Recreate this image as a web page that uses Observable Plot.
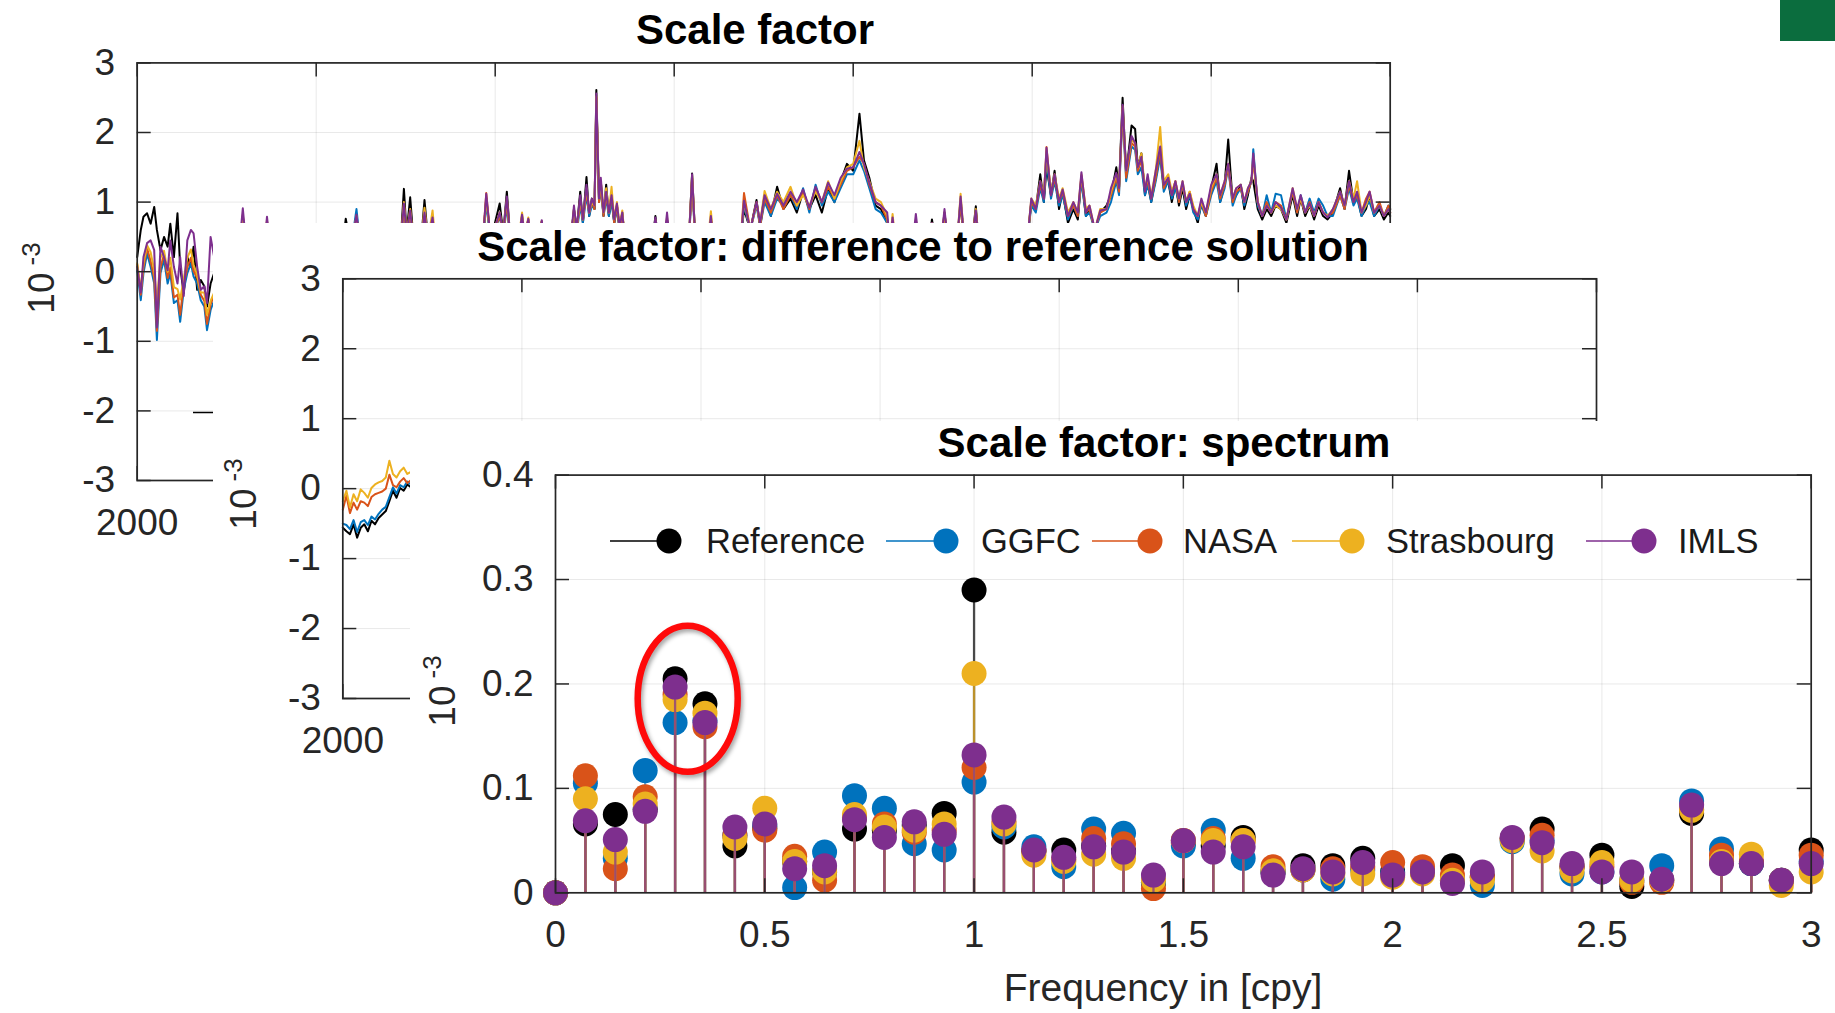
<!DOCTYPE html>
<html>
<head>
<meta charset="utf-8">
<script src="https://cdn.jsdelivr.net/npm/d3@7"></script>
<script src="https://cdn.jsdelivr.net/npm/@observablehq/plot@0.6"></script>
<style>
  html, body { margin: 0; padding: 0; background: #fff; }
  #fig { position: relative; width: 1835px; height: 1013px; overflow: hidden; background: #fff;
         font-family: "Liberation Sans", Arial, Helvetica, sans-serif; }
  .title { position: absolute; font-weight: bold; font-size: 42px; color: #000; white-space: nowrap;
           line-height: 1; transform: translate(-50%, -50%); }
  .ylab { position: absolute; font-size: 37px; color: #262626; white-space: nowrap; line-height: 1;
          transform: translate(-50%, -50%) rotate(-90deg); }
  .ylab sup { font-size: 26px; margin-left: 7px; vertical-align: 0.55em; line-height: 0; }
  .xlab { position: absolute; font-size: 39px; color: #262626; white-space: nowrap; line-height: 1;
          transform: translate(-50%, -50%); }
  .badge { position: absolute; left: 1780px; top: 0; width: 55px; height: 41px; background: #0b6d3e; }
</style>
</head>
<body>
<div id="fig"></div>
<script>
// ---------------------------------------------------------------------------
// Series
const seriesNames  = ["Reference", "GGFC", "NASA", "Strasbourg", "IMLS"];
const seriesColors = ["#000000", "#0072BD", "#D95319", "#EDB120", "#7E2F8E"];

// Tick values
const yearTicks = [2000, 2002, 2004, 2006, 2008, 2010, 2012, 2014];
const yearLabels = [2000];            // the only year label left uncovered by the stacked panels
const unitTicks = [-3, -2, -1, 0, 1, 2, 3];
const freqTicks = [0, 0.5, 1, 1.5, 2, 2.5, 3];
const ampTicks  = [0, 0.1, 0.2, 0.3, 0.4];

// ---------------------------------------------------------------------------
// Scale factor time series (x 1e-3), rows: [year, Reference, GGFC, NASA, Strasbourg, IMLS]
const sfStart = [
  [2000.00,  0.21,  0.02,  0.10,  0.12,  0.07],
  [2000.04,  0.60, -0.41, -0.33, -0.25, -0.30],
  [2000.07,  0.79, -0.02,  0.06,  0.12,  0.21],
  [2000.11,  0.84,  0.26,  0.34,  0.38,  0.41],
  [2000.15,  0.69,  0.07,  0.15,  0.28,  0.45],
  [2000.19,  0.93, -0.17, -0.09,  0.02,  0.31],
  [2000.22,  0.60, -0.98, -0.85, -0.45, -0.80],
  [2000.26,  0.31, -0.02,  0.06,  0.20,  0.36],
  [2000.30,  0.50,  0.17,  0.25,  0.30,  0.21],
  [2000.34,  0.36, -0.17, -0.09,  0.00,  0.02],
  [2000.37,  0.69, -0.02,  0.06,  0.20,  0.45],
  [2000.41,  0.21, -0.45, -0.37, -0.22,  0.07],
  [2000.45,  0.84, -0.41, -0.33, -0.25, -0.17],
  [2000.48,  0.07, -0.72, -0.62, -0.40,  0.21],
  [2000.52, -0.31, -0.26, -0.18, -0.10, -0.35],
  [2000.56,  0.21, -0.02,  0.06,  0.20,  0.45],
  [2000.60,  0.07,  0.12,  0.20,  0.32,  0.60],
  [2000.63,  0.36, -0.07,  0.01,  0.10,  0.55],
  [2000.67, -0.26, -0.17, -0.09, -0.05,  0.07],
  [2000.71, -0.12, -0.41, -0.33, -0.30, -0.26],
  [2000.75, -0.21, -0.50, -0.42, -0.30, -0.21],
  [2000.78, -0.50, -0.84, -0.75, -0.62, -0.45],
  [2000.82, -0.17, -0.55, -0.47, -0.42,  0.50],
  [2000.86, -0.02, -0.41, -0.33, -0.30,  0.21]
];
const sfEarly = [
  [2000.90, 0.10, -0.20, -0.10, 0.00, 0.10],
  [2001.14, 0.35, 0.25, 0.30, 0.35, 0.35],
  [2001.18, 0.80, 0.70, 0.75, 0.82, 0.91],
  [2001.22, 0.30, 0.25, 0.30, 0.30, 0.35],
  [2001.42, 0.35, 0.30, 0.30, 0.35, 0.35],
  [2001.45, 0.70, 0.68, 0.72, 0.74, 0.79],
  [2001.49, 0.30, 0.25, 0.30, 0.30, 0.30],
  [2002.29, 0.30, 0.25, 0.30, 0.30, 0.30],
  [2002.33, 0.76, 0.60, 0.60, 0.65, 0.60],
  [2002.39, 0.35, 0.35, 0.35, 0.35, 0.35],
  [2002.45, 0.70, 0.90, 0.78, 0.80, 0.82],
  [2002.50, 0.30, 0.30, 0.30, 0.30, 0.30],
  [2002.94, 0.35, 0.30, 0.30, 0.35, 0.35],
  [2002.98, 1.19, 0.90, 0.95, 1.00, 0.98],
  [2003.01, 0.55, 0.50, 0.50, 0.55, 0.55],
  [2003.05, 1.07, 0.80, 0.85, 0.90, 0.88],
  [2003.09, 0.40, 0.35, 0.40, 0.40, 0.40],
  [2003.17, 0.40, 0.35, 0.40, 0.40, 0.40],
  [2003.21, 1.03, 0.80, 0.85, 0.92, 0.85],
  [2003.25, 0.45, 0.40, 0.45, 0.45, 0.45],
  [2003.30, 0.70, 0.70, 0.75, 0.88, 0.78],
  [2003.34, 0.30, 0.30, 0.30, 0.30, 0.30],
  [2003.86, 0.40, 0.35, 0.40, 0.40, 0.40],
  [2003.90, 1.05, 1.00, 1.13, 1.05, 1.12],
  [2003.95, 0.45, 0.40, 0.45, 0.45, 0.45],
  [2004.05, 0.98, 0.80, 0.80, 0.85, 0.85],
  [2004.09, 0.55, 0.50, 0.55, 0.55, 0.55],
  [2004.13, 1.15, 0.95, 1.00, 1.05, 1.08],
  [2004.17, 0.45, 0.40, 0.45, 0.45, 0.45],
  [2004.26, 0.45, 0.40, 0.45, 0.45, 0.45],
  [2004.30, 0.80, 0.75, 0.78, 0.85, 0.82],
  [2004.33, 0.50, 0.45, 0.50, 0.50, 0.50],
  [2004.37, 0.75, 0.72, 0.74, 0.78, 0.76],
  [2004.41, 0.35, 0.30, 0.35, 0.35, 0.35],
  [2004.49, 0.35, 0.30, 0.35, 0.35, 0.35],
  [2004.52, 0.72, 0.70, 0.72, 0.73, 0.74],
  [2004.56, 0.30, 0.30, 0.30, 0.30, 0.30]
];
const sf2005 = [
  [2004.84, 0.40, 0.40, 0.40, 0.40, 0.40],
  [2004.88, 0.90, 0.85, 0.88, 0.90, 0.95],
  [2004.91, 0.60, 0.55, 0.60, 0.60, 0.60],
  [2004.95, 1.15, 0.95, 1.00, 1.05, 1.10],
  [2004.98, 0.70, 0.70, 0.75, 0.75, 0.75],
  [2005.02, 1.36, 1.10, 1.15, 1.20, 1.25],
  [2005.05, 0.80, 0.80, 0.85, 0.85, 0.85],
  [2005.08, 1.05, 0.95, 1.00, 1.00, 1.05],
  [2005.11, 0.90, 0.90, 0.90, 0.95, 0.95],
  [2005.13, 2.61, 2.45, 2.50, 2.52, 2.56],
  [2005.16, 1.00, 1.00, 1.00, 1.05, 1.05],
  [2005.18, 1.30, 1.20, 1.25, 1.30, 1.35],
  [2005.21, 0.80, 0.80, 0.80, 0.85, 0.85],
  [2005.24, 1.25, 1.05, 1.10, 1.20, 1.15],
  [2005.27, 0.80, 0.80, 0.85, 0.85, 0.85],
  [2005.30, 1.05, 1.00, 1.10, 1.22, 1.10],
  [2005.33, 0.70, 0.70, 0.70, 0.75, 0.75],
  [2005.36, 0.95, 0.90, 0.95, 1.00, 0.98],
  [2005.39, 0.60, 0.60, 0.60, 0.65, 0.65],
  [2005.42, 0.85, 0.80, 0.82, 0.88, 0.85],
  [2005.46, 0.30, 0.30, 0.30, 0.30, 0.30],
  [2005.75, 0.35, 0.30, 0.30, 0.35, 0.35],
  [2005.79, 0.80, 0.70, 0.72, 0.75, 0.78],
  [2005.83, 0.35, 0.30, 0.30, 0.35, 0.35],
  [2005.88, 0.35, 0.30, 0.30, 0.35, 0.35],
  [2005.92, 0.75, 0.72, 0.74, 0.78, 0.85],
  [2005.96, 0.30, 0.30, 0.30, 0.30, 0.30],
  [2006.16, 0.35, 0.30, 0.30, 0.35, 0.35],
  [2006.20, 1.41, 1.30, 1.35, 1.38, 1.40],
  [2006.24, 0.35, 0.30, 0.30, 0.35, 0.35],
  [2006.37, 0.35, 0.30, 0.30, 0.35, 0.35],
  [2006.41, 0.75, 0.70, 0.75, 0.87, 0.80],
  [2006.45, 0.30, 0.30, 0.30, 0.30, 0.30]
];
const sf2007 = [
  [2006.74, 0.40, 0.40, 0.40, 0.40, 0.40],
  [2006.78, 0.90, 0.95, 1.13, 1.00, 1.02],
  [2006.85, 0.60, 0.60, 0.60, 0.60, 0.60],
  [2006.92, 1.03, 0.95, 1.00, 0.98, 1.00],
  [2006.96, 0.65, 0.65, 0.65, 0.70, 0.70],
  [2007.01, 1.10, 1.00, 1.05, 1.16, 1.10],
  [2007.08, 0.80, 0.80, 0.85, 0.90, 0.90],
  [2007.15, 1.22, 1.05, 1.10, 1.15, 1.12],
  [2007.22, 0.90, 0.95, 0.90, 1.00, 0.95],
  [2007.30, 1.05, 1.10, 1.10, 1.22, 1.15],
  [2007.37, 0.85, 0.90, 0.95, 0.95, 1.00],
  [2007.44, 1.15, 1.20, 1.15, 1.10, 1.18],
  [2007.51, 0.90, 0.85, 0.90, 0.95, 0.92],
  [2007.58, 1.10, 1.25, 1.20, 1.15, 1.22],
  [2007.65, 0.85, 0.95, 1.00, 1.00, 1.00],
  [2007.72, 1.20, 1.15, 1.22, 1.30, 1.28],
  [2007.79, 1.00, 1.00, 1.05, 1.05, 1.10],
  [2007.86, 1.30, 1.20, 1.25, 1.30, 1.35],
  [2007.93, 1.55, 1.40, 1.45, 1.50, 1.48],
  [2008.00, 1.45, 1.40, 1.50, 1.55, 1.50],
  [2008.07, 2.27, 1.60, 1.65, 1.88, 1.72],
  [2008.12, 1.60, 1.45, 1.55, 1.50, 1.55],
  [2008.18, 1.35, 1.20, 1.25, 1.30, 1.28],
  [2008.25, 0.95, 0.90, 1.00, 1.05, 1.00],
  [2008.31, 0.90, 0.85, 0.95, 1.00, 0.95],
  [2008.38, 0.70, 0.70, 0.75, 0.80, 0.85],
  [2008.41, 0.40, 0.40, 0.40, 0.40, 0.40],
  [2008.44, 0.70, 0.70, 0.75, 0.83, 0.78],
  [2008.48, 0.30, 0.30, 0.30, 0.30, 0.30],
  [2008.66, 0.35, 0.35, 0.35, 0.35, 0.35],
  [2008.70, 0.72, 0.70, 0.72, 0.75, 0.83],
  [2008.74, 0.35, 0.35, 0.35, 0.35, 0.35],
  [2008.84, 0.35, 0.35, 0.35, 0.35, 0.35],
  [2008.88, 0.75, 0.65, 0.68, 0.70, 0.70],
  [2008.92, 0.40, 0.40, 0.40, 0.40, 0.40],
  [2008.98, 0.40, 0.40, 0.40, 0.40, 0.40],
  [2009.02, 0.85, 0.80, 0.82, 0.85, 0.90],
  [2009.06, 0.40, 0.40, 0.40, 0.40, 0.40],
  [2009.16, 0.40, 0.40, 0.40, 0.40, 0.40],
  [2009.20, 1.00, 1.05, 1.00, 1.12, 1.08],
  [2009.24, 0.45, 0.45, 0.45, 0.45, 0.45],
  [2009.33, 0.45, 0.45, 0.45, 0.45, 0.45],
  [2009.37, 0.94, 0.80, 0.85, 0.90, 0.88],
  [2009.41, 0.30, 0.30, 0.30, 0.30, 0.30]
];
const sf2010 = [
  [2009.95, 0.50, 0.50, 0.50, 0.50, 0.50],
  [2009.99, 1.00, 0.95, 1.00, 1.05, 1.05],
  [2010.04, 0.90, 0.85, 0.90, 0.95, 0.90],
  [2010.09, 1.40, 1.20, 1.25, 1.30, 1.30],
  [2010.13, 1.00, 1.00, 1.05, 1.10, 1.05],
  [2010.16, 1.50, 1.60, 1.79, 1.70, 1.78],
  [2010.21, 1.10, 1.05, 1.10, 1.15, 1.10],
  [2010.25, 1.45, 1.30, 1.35, 1.40, 1.40],
  [2010.30, 0.90, 0.95, 1.00, 1.05, 1.00],
  [2010.34, 1.15, 1.10, 1.15, 1.20, 1.18],
  [2010.40, 0.70, 0.75, 0.80, 0.85, 0.80],
  [2010.46, 0.90, 0.95, 0.95, 1.00, 1.00],
  [2010.51, 0.75, 0.80, 0.80, 0.85, 0.85],
  [2010.55, 1.35, 1.30, 1.38, 1.40, 1.43],
  [2010.60, 0.80, 0.80, 0.85, 0.90, 0.85],
  [2010.64, 0.90, 0.85, 0.90, 0.95, 0.95],
  [2010.70, 0.60, 0.60, 0.60, 0.60, 0.60],
  [2010.76, 0.85, 0.80, 0.85, 0.90, 0.88],
  [2010.83, 0.95, 0.85, 0.90, 0.90, 0.90],
  [2010.88, 1.10, 1.00, 1.10, 1.15, 1.20],
  [2010.94, 1.50, 1.30, 1.35, 1.40, 1.42],
  [2010.97, 1.20, 1.10, 1.15, 1.20, 1.20],
  [2011.01, 2.50, 2.30, 2.35, 2.38, 2.40],
  [2011.05, 1.40, 1.30, 1.35, 1.45, 1.45],
  [2011.11, 2.10, 1.80, 1.85, 1.90, 1.95],
  [2011.15, 2.05, 1.75, 1.80, 1.85, 1.85],
  [2011.18, 1.50, 1.40, 1.45, 1.50, 1.50],
  [2011.22, 1.70, 1.50, 1.60, 1.70, 1.65],
  [2011.26, 1.10, 1.10, 1.20, 1.20, 1.15],
  [2011.29, 1.30, 1.25, 1.30, 1.35, 1.40],
  [2011.33, 1.00, 1.00, 1.05, 1.10, 1.05],
  [2011.38, 1.35, 1.30, 1.35, 1.45, 1.45],
  [2011.43, 1.70, 1.65, 1.75, 2.08, 1.80],
  [2011.47, 1.20, 1.15, 1.20, 1.30, 1.25],
  [2011.52, 1.30, 1.30, 1.35, 1.40, 1.35],
  [2011.56, 1.00, 1.05, 1.10, 1.15, 1.10],
  [2011.60, 1.25, 1.20, 1.30, 1.30, 1.30],
  [2011.64, 0.95, 1.00, 1.00, 1.05, 1.05],
  [2011.68, 1.20, 1.25, 1.25, 1.30, 1.30],
  [2011.72, 0.90, 0.95, 1.00, 1.00, 1.00],
  [2011.76, 1.10, 1.10, 1.15, 1.15, 1.12],
  [2011.80, 0.90, 0.85, 0.90, 0.95, 0.90],
  [2011.85, 0.70, 0.75, 0.80, 0.80, 0.80],
  [2011.89, 1.00, 0.95, 1.00, 1.00, 1.05],
  [2011.94, 0.80, 0.80, 0.80, 0.85, 0.85],
  [2012.00, 1.20, 1.10, 1.15, 1.20, 1.25],
  [2012.06, 1.55, 1.30, 1.35, 1.40, 1.40],
  [2012.10, 1.00, 1.00, 1.05, 1.10, 1.10],
  [2012.15, 1.25, 1.20, 1.25, 1.30, 1.30],
  [2012.19, 1.90, 1.50, 1.50, 1.55, 1.55],
  [2012.24, 1.00, 0.95, 1.00, 1.05, 1.05],
  [2012.28, 1.10, 1.10, 1.15, 1.20, 1.20],
  [2012.33, 1.25, 1.20, 1.20, 1.25, 1.25],
  [2012.37, 0.90, 0.95, 1.00, 1.00, 1.00],
  [2012.41, 1.10, 1.15, 1.15, 1.20, 1.20],
  [2012.45, 1.35, 1.30, 1.30, 1.30, 1.30],
  [2012.47, 1.30, 1.76, 1.60, 1.65, 1.70],
  [2012.52, 0.90, 0.95, 1.00, 1.00, 1.00],
  [2012.57, 0.75, 0.80, 0.80, 0.80, 0.80],
  [2012.62, 0.90, 1.10, 1.00, 0.95, 0.95],
  [2012.67, 0.80, 0.85, 0.85, 0.85, 0.85],
  [2012.72, 0.95, 1.12, 1.00, 0.95, 1.00],
  [2012.78, 0.90, 1.10, 0.95, 0.90, 0.92],
  [2012.84, 0.70, 0.75, 0.75, 0.75, 0.75],
  [2012.91, 1.10, 1.15, 1.15, 1.20, 1.20],
  [2012.96, 0.80, 0.85, 0.85, 0.90, 0.90],
  [2013.00, 1.05, 1.10, 1.05, 1.05, 1.10],
  [2013.05, 0.80, 0.85, 0.85, 0.85, 0.85],
  [2013.10, 0.95, 1.05, 1.00, 0.95, 0.98],
  [2013.15, 0.75, 0.85, 0.80, 0.80, 0.80],
  [2013.20, 0.95, 1.05, 1.00, 1.00, 1.00],
  [2013.25, 0.80, 0.95, 0.85, 0.85, 0.85],
  [2013.30, 0.75, 0.80, 0.80, 0.80, 0.78],
  [2013.36, 0.85, 0.80, 0.85, 0.90, 0.90],
  [2013.44, 1.20, 1.10, 1.10, 1.15, 1.15],
  [2013.49, 0.90, 0.90, 0.90, 0.95, 0.95],
  [2013.54, 1.45, 1.20, 1.25, 1.30, 1.30],
  [2013.59, 1.00, 0.95, 1.00, 1.05, 1.00],
  [2013.63, 1.10, 1.05, 1.10, 1.30, 1.15],
  [2013.68, 0.80, 0.80, 0.85, 0.85, 0.85],
  [2013.73, 0.90, 0.95, 1.05, 0.95, 1.00],
  [2013.77, 1.10, 1.00, 1.15, 1.10, 1.15],
  [2013.82, 0.80, 0.80, 0.85, 0.85, 0.85],
  [2013.88, 0.90, 0.95, 1.00, 0.95, 0.95],
  [2013.93, 0.75, 0.80, 0.80, 0.80, 0.80],
  [2013.98, 0.85, 0.95, 0.95, 0.90, 0.90],
  [2014.00, 0.80, 0.90, 0.90, 0.85, 0.85]
];

// Difference to reference solution (x 1e-3), rows: [year, Reference, GGFC, NASA, Strasbourg]
const sfDiff = [
  [2000.00, -0.56, -0.50, -0.30, -0.18],
  [2000.04, -0.61, -0.52, -0.10, -0.03],
  [2000.08, -0.65, -0.58, -0.35, -0.27],
  [2000.12, -0.51, -0.45, -0.20, -0.08],
  [2000.16, -0.70, -0.62, -0.30, -0.18],
  [2000.20, -0.56, -0.48, -0.18, -0.01],
  [2000.24, -0.51, -0.45, -0.20, -0.06],
  [2000.28, -0.61, -0.52, -0.25, -0.13],
  [2000.32, -0.46, -0.40, -0.12,  0.01],
  [2000.36, -0.51, -0.44, -0.08,  0.06],
  [2000.40, -0.42, -0.36, -0.06,  0.09],
  [2000.44, -0.37, -0.30, -0.04,  0.11],
  [2000.48, -0.32, -0.26,  0.00,  0.16],
  [2000.52, -0.18, -0.12,  0.20,  0.40],
  [2000.56, -0.03,  0.02,  0.05,  0.21],
  [2000.60, -0.13, -0.07,  0.02,  0.16],
  [2000.64,  0.01,  0.05,  0.10,  0.25],
  [2000.68, -0.03,  0.02,  0.15,  0.30],
  [2000.72,  0.06,  0.10,  0.08,  0.21],
  [2000.76,  0.02,  0.06,  0.12,  0.24],
  [2000.80,  0.05,  0.08,  0.14,  0.26]
];

// Amplitude spectrum, frequency in cycles per year
const freq = [0, 0.0714, 0.1429, 0.2143, 0.2857, 0.3571, 0.4286, 0.5, 0.5714, 0.6429, 0.7143,
  0.7857, 0.8571, 0.9286, 1, 1.0714, 1.1429, 1.2143, 1.2857, 1.3571, 1.4286, 1.5, 1.5714,
  1.6429, 1.7143, 1.7857, 1.8571, 1.9286, 2, 2.0714, 2.1429, 2.2143, 2.2857, 2.3571, 2.4286,
  2.5, 2.5714, 2.6429, 2.7143, 2.7857, 2.8571, 2.9286, 3];
const specRef   = [0, .066, .075, .080, .205, .181, .045, .062, .030, .020, .061, .060, .065, .076, .290, .058, .040, .041, .045, .040, .010, .048, .045, .053, .020, .026, .026, .033, .020, .020, .026, .015, .052, .061, .025, .036, .006, .012, .076, .030, .028, .012, .041];
const specGGFC  = [0, .105, .033, .117, .163, .165, .055, .065, .005, .039, .093, .081, .047, .041, .106, .063, .044, .025, .061, .057, .010, .045, .060, .033, .020, .022, .013, .022, .018, .020, .012, .007, .049, .050, .018, .020, .012, .026, .088, .042, .028, .012, .030];
const specNASA  = [0, .112, .023, .092, .190, .159, .055, .060, .035, .012, .072, .066, .058, .060, .120, .068, .040, .032, .052, .047, .004, .050, .052, .050, .025, .022, .023, .025, .029, .025, .017, .015, .052, .055, .025, .025, .010, .010, .080, .036, .030, .012, .036];
const specStras = [0, .090, .039, .085, .185, .172, .052, .081, .030, .020, .075, .063, .060, .066, .210, .066, .036, .030, .037, .033, .012, .050, .050, .050, .021, .022, .018, .018, .015, .018, .012, .012, .050, .040, .021, .029, .012, .012, .079, .030, .037, .007, .020];
const specIMLS  = [0, .069, .051, .078, .197, .163, .063, .066, .023, .026, .070, .053, .068, .056, .132, .0725, .041, .034, .044, .039, .017, .050, .039, .044, .017, .023, .020, .029, .017, .020, .009, .020, .053, .048, .028, .020, .020, .013, .084, .028, .028, .012, .028];

// ---------------------------------------------------------------------------
const fig = document.getElementById("fig");
const axisColor = "#262626";
const tickLen = 14;
const baseStyle = {
  background: "white",
  color: axisColor,
  fontFamily: "'Liberation Sans', Arial, Helvetica, sans-serif",
  fontSize: "37px",
  overflow: "visible"
};

// Box with inward ticks on all four sides
function boxMarks(xTicks, yTicks, fw, fh) {
  const s = {stroke: axisColor, strokeWidth: 1.5};
  return [
    Plot.tickY(yTicks, {y: d => d, ...s, insetRight: fw - tickLen}),
    Plot.tickY(yTicks, {y: d => d, ...s, insetLeft: fw - tickLen}),
    Plot.tickX(xTicks, {x: d => d, ...s, insetTop: fh - tickLen}),
    Plot.tickX(xTicks, {x: d => d, ...s, insetBottom: fh - tickLen}),
    Plot.frame({stroke: axisColor, strokeWidth: 1.7})
  ];
}

function place(el, left, top) {
  el.style.position = "absolute";
  el.style.left = left + "px";
  el.style.top = top + "px";
  el.style.maxWidth = "none";
  fig.appendChild(el);
}
function addText(cls, html, left, top) {
  const d = document.createElement("div");
  d.className = cls;
  d.innerHTML = html;
  d.style.left = left + "px";
  d.style.top = top + "px";
  fig.appendChild(d);
}

function timePanel(rows, nSeries, box) {
  const fw = box.width - box.ml - box.mr;
  const fh = box.height - box.mt - box.mb;
  const lines = [];
  for (let k = 0; k < nSeries; k++) {
    const data = rows.map(r => ({t: r[0], v: r[k + 1]}));
    lines.push(Plot.line(data, {x: "t", y: "v", stroke: seriesColors[k], strokeWidth: 2}));
  }
  return Plot.plot({
    width: box.width, height: box.height,
    marginLeft: box.ml, marginRight: box.mr, marginTop: box.mt, marginBottom: box.mb,
    x: {domain: [2000, 2014], ticks: yearTicks, grid: true, label: null, tickSize: 0, tickPadding: 28,
        tickFormat: d => (yearLabels.includes(d) ? String(d) : "")},
    y: {domain: [-3, 3], ticks: unitTicks, tickFormat: d => String(d), tickSize: 0, tickPadding: 22, grid: true, label: null},
    style: baseStyle,
    marks: [...lines, ...boxMarks(yearTicks, unitTicks, fw, fh)]
  });
}

// Panel 1: scale factor
const sfRows = [...sfStart, ...sfEarly, ...sf2005, ...sf2007, ...sf2010];
const svg1 = timePanel(sfRows, 5, {width: 1835, height: 1013, ml: 136.7, mr: 445.3, mt: 62.4, mb: 533});
place(svg1, 0, 0);
// legend sample line of this panel
d3.select(svg1).append("line")
  .attr("x1", 193).attr("x2", 262).attr("y1", 412.5).attr("y2", 412.5)
  .attr("stroke", seriesColors[0]).attr("stroke-width", 1.6);
addText("title", "Scale factor", 755, 30);
addText("ylab", "10<sup>-3</sup>", 41, 278);

// Panel 2: difference to reference solution
const svg2 = timePanel(sfDiff, 4, {width: 1622, height: 790, ml: 129.3, mr: 239, mt: 55.3, mb: 315});
place(svg2, 213, 223);
addText("title", "Scale factor: difference to reference solution", 923, 247);
addText("ylab", "10<sup>-3</sup>", 243, 494);

// Panel 3: spectrum
const spec = [specRef, specGGFC, specNASA, specStras, specIMLS];
const box3 = {width: 1425, height: 592, ml: 145, mr: 24.3, mt: 53.6, mb: 120.7};
const fw3 = box3.width - box3.ml - box3.mr;
const fh3 = box3.height - box3.mt - box3.mb;
const stemMarks = [];
spec.forEach((vals, k) => {
  const data = freq.map((f, i) => ({f, v: vals[i]}));
  stemMarks.push(Plot.ruleX(data, {x: "f", y1: d => 0, y2: "v", stroke: seriesColors[k], strokeWidth: 2.3, strokeOpacity: 0.7}));
  stemMarks.push(Plot.dot(data, {x: "f", y: "v", r: 12.5, fill: seriesColors[k], stroke: "none"}));
});
const svg3 = Plot.plot({
  width: box3.width, height: box3.height,
  marginLeft: box3.ml, marginRight: box3.mr, marginTop: box3.mt, marginBottom: box3.mb,
  x: {domain: [0, 3], ticks: freqTicks, tickFormat: d => String(d), tickSize: 0, tickPadding: 28, grid: true, label: null},
  y: {domain: [0, 0.4], ticks: ampTicks, tickFormat: d => String(d), tickSize: 0, tickPadding: 22, grid: true, label: null},
  style: baseStyle,
  marks: [...stemMarks, ...boxMarks(freqTicks, ampTicks, fw3, fh3)]
});
place(svg3, 410, 421);

// Legend inside the spectrum axes
const legendY = 120;
const legendItems = [
  {x0: 200, x1: 259, tx: 296},
  {x0: 476, x1: 536, tx: 571},
  {x0: 682, x1: 740, tx: 773},
  {x0: 882, x1: 942, tx: 976},
  {x0: 1176, x1: 1234, tx: 1268}
];
const lg = d3.select(svg3).append("g");
legendItems.forEach((it, k) => {
  lg.append("line").attr("x1", it.x0).attr("x2", it.x1).attr("y1", legendY).attr("y2", legendY)
    .attr("stroke", seriesColors[k]).attr("stroke-width", 1.4);
  lg.append("circle").attr("cx", it.x1).attr("cy", legendY).attr("r", 12.5).attr("fill", seriesColors[k]);
  lg.append("text").attr("x", it.tx).attr("y", legendY).attr("dy", "0.35em")
    .attr("text-anchor", "start")
    .attr("fill", "#1a1a1a").attr("font-size", "34.5px").text(seriesNames[k]);
});

// Highlight of the two strongest low-frequency lines
const xs3 = svg3.scale("x"), ys3 = svg3.scale("y");
d3.select(svg3).append("ellipse")
  .attr("cx", xs3.apply(0.317)).attr("cy", ys3.apply(0.1854))
  .attr("rx", 50).attr("ry", 73)
  .attr("fill", "none").attr("stroke", "#ff0a0a").attr("stroke-width", 6.5)
  .style("filter", "drop-shadow(2px 3px 2px rgba(0,0,0,0.35))");

addText("title", "Scale factor: spectrum", 1164, 443);
addText("ylab", "10<sup>-3</sup>", 442, 691);
addText("xlab", "Frequency in [cpy]", 1163, 987);

const badge = document.createElement("div");
badge.className = "badge";
fig.appendChild(badge);
</script>
</body>
</html>
